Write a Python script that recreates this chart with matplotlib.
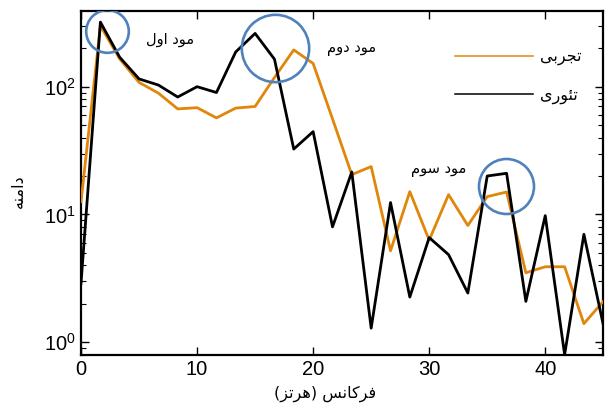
import matplotlib
matplotlib.use("Agg")
import matplotlib.pyplot as plt

# Frequency grid (Hz) and measured / computed amplitudes
freq = [0, 1.67, 3.33, 5, 6.67, 8.33, 10, 11.67, 13.33, 15, 16.67, 18.33, 20, 21.67,
        23.33, 25, 26.67, 28.33, 30, 31.67, 33.33, 35, 36.67, 38.33, 40, 41.67, 43.33, 45]
experimental = [12.6, 300, 165, 108, 89, 67, 68.5, 57, 68, 70, 118, 194, 152, 56,
                 20.5, 23.7, 5.2, 15.1, 6.3, 14.3, 8.2, 13.8, 15.0, 3.5, 3.9, 3.9, 1.4, 2.09]
theoretical = [2.9, 320, 170, 115, 103, 83, 100, 90, 187, 261, 164, 32.5, 44.5, 8.0,
               21.5, 1.29, 12.4, 2.26, 6.6, 4.85, 2.43, 20.0, 21.0, 2.09, 9.8, 0.8, 7.0, 1.37]

# Mode markers (circle centre and label)
mode_freq = [2.24, 16.68, 36.65]
mode_amp = [271, 199.5, 16.7]
mode_size = [30.7, 48.5, 39.6]
mode_labels = ["مود اول", "مود دوم", "مود سوم"]
mode_label_pos = [(7.7, 232), (23.3, 200), (30.8, 22.3)]

series_labels = ["تجربی", "تئوری"]
xlabel = "فرکانس (هرتز)"
ylabel = "دامنه"

# --- minimal Arabic/Persian shaping (presentation forms + visual order) ---
DUAL = {
    'ب': ('\uFE8F', '\uFE90', '\uFE91', '\uFE92'),
    'ت': ('\uFE95', '\uFE96', '\uFE97', '\uFE98'),
    'ج': ('\uFE9D', '\uFE9E', '\uFE9F', '\uFEA0'),
    'س': ('\uFEB1', '\uFEB2', '\uFEB3', '\uFEB4'),
    'ف': ('\uFED1', '\uFED2', '\uFED3', '\uFED4'),
    'ل': ('\uFEDD', '\uFEDE', '\uFEDF', '\uFEE0'),
    'م': ('\uFEE1', '\uFEE2', '\uFEE3', '\uFEE4'),
    'ن': ('\uFEE5', '\uFEE6', '\uFEE7', '\uFEE8'),
    'ه': ('\uFEE9', '\uFEEA', '\uFEEB', '\uFEEC'),
    'ئ': ('\uFE89', '\uFE8A', '\uFE8B', '\uFE8C'),
    'ک': ('\uFB8E', '\uFB8F', '\uFB90', '\uFB91'),
    'ی': ('\uFBFC', '\uFBFD', '\uFBFE', '\uFBFF'),
}
RIGHT = {
    'ا': ('\uFE8D', '\uFE8E'),
    'د': ('\uFEA9', '\uFEAA'),
    'ر': ('\uFEAD', '\uFEAE'),
    'ز': ('\uFEAF', '\uFEB0'),
    'و': ('\uFEED', '\uFEEE'),
}
MIRROR = {'(': ')', ')': '('}


def shape(text):
    out = []
    n = len(text)
    for i, ch in enumerate(text):
        prev = text[i - 1] if i > 0 else ''
        nxt = text[i + 1] if i < n - 1 else ''
        joins_prev = prev in DUAL and (ch in DUAL or ch in RIGHT)
        if ch in DUAL:
            joins_next = nxt in DUAL or nxt in RIGHT
            f = DUAL[ch]
            if joins_prev and joins_next:
                out.append(f[3])
            elif joins_prev:
                out.append(f[1])
            elif joins_next:
                out.append(f[2])
            else:
                out.append(f[0])
        elif ch in RIGHT:
            out.append(RIGHT[ch][1] if joins_prev else RIGHT[ch][0])
        else:
            out.append(ch)
    return ''.join(MIRROR.get(c, c) for c in reversed(out))


AR_FONT = ['DejaVu Sans']

plt.rcParams['font.family'] = ['Liberation Sans', 'DejaVu Sans']
plt.rcParams['mathtext.fontset'] = 'custom'
plt.rcParams['mathtext.rm'] = 'Liberation Sans'
plt.rcParams['mathtext.it'] = 'Liberation Sans'

fig = plt.figure(figsize=(6.06, 4.07), dpi=100)
ax = fig.add_axes([0.1337, 0.1285, 0.8618, 0.8452])

ax.plot(freq, experimental, color='#E0860B', lw=2.0, label=shape(series_labels[0]), zorder=3)
ax.plot(freq, theoretical, color='black', lw=2.0, label=shape(series_labels[1]), zorder=4)

for fx, fy, s in zip(mode_freq, mode_amp, mode_size):
    ax.plot(fx, fy, 'o', ms=s, mfc='none', mec='#4F81BD', mew=1.9, zorder=5)

for lab, (lx, ly) in zip(mode_labels, mode_label_pos):
    ax.text(lx, ly, shape(lab), family=AR_FONT, fontsize=10.5, ha='center', va='center')

ax.set_yscale('log')
ax.set_xlim(0, 45)
ax.set_ylim(0.8, 393)
ax.set_xticks([0, 10, 20, 30, 40])

ax.tick_params(which='both', direction='in', top=True, right=True, labelsize=14.5)
ax.tick_params(which='major', length=6, width=1.0)
ax.tick_params(which='minor', length=3.5, width=0.8)
for sp in ax.spines.values():
    sp.set_linewidth(1.6)

ax.set_xlabel(shape(xlabel), family=AR_FONT, fontsize=11.5, va='center')
ax.set_ylabel(shape(ylabel), family=AR_FONT, fontsize=11.5, va='center')
ax.xaxis.set_label_coords(0.467, -0.114)
ax.yaxis.set_label_coords(-0.12, 0.476)

leg = ax.legend(loc='upper left', bbox_to_anchor=(0.688, 0.93), frameon=False,
                handlelength=4.9, labelspacing=1.4, handletextpad=0.45,
                prop={'family': AR_FONT, 'size': 11.5})
for line in leg.get_lines():
    line.set_linewidth(1.1)

fig.savefig('out.png', dpi=100)
